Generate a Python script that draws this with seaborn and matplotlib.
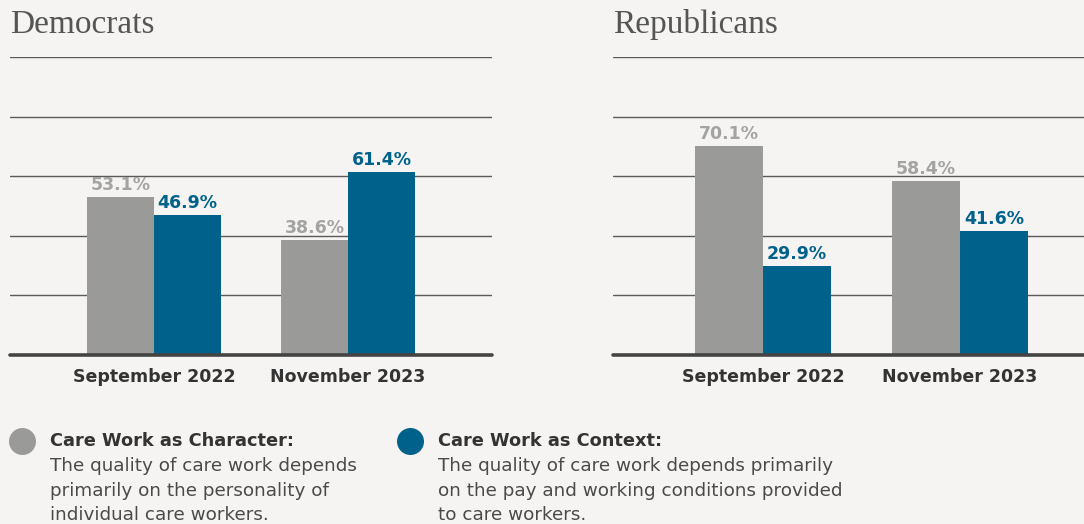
import matplotlib
matplotlib.use("Agg")
import matplotlib.pyplot as plt
import seaborn as sns
import pandas as pd

# ---- data ----
periods = ["September 2022", "November 2023"]
series = ["Care Work as Character", "Care Work as Context"]
dem_character = [53.1, 38.6]
dem_context = [46.9, 61.4]
rep_character = [70.1, 58.4]
rep_context = [29.9, 41.6]
panel_titles = ["Democrats", "Republicans"]
legend_heads = ["Care Work as Character:", "Care Work as Context:"]
legend_bodies = [
    "The quality of care work depends\nprimarily on the personality of\nindividual care workers.",
    "The quality of care work depends primarily\non the pay and working conditions provided\nto care workers.",
]

GRAY = "#9a9a98"
BLUE = "#00628b"
LABEL_GRAY = "#a3a3a1"
BG = "#f5f4f2"
palette = {series[0]: GRAY, series[1]: BLUE}

sns.set_theme(style="white")
plt.rcParams["font.family"] = ["DejaVu Sans"]

W, H = 1084, 524
fig = plt.figure(figsize=(W / 100, H / 100), dpi=100)
fig.patch.set_facecolor(BG)


def make_df(char, ctx):
    rows = []
    for p, v in zip(periods, char):
        rows.append({"period": p, "series": series[0], "value": v})
    for p, v in zip(periods, ctx):
        rows.append({"period": p, "series": series[1], "value": v})
    return pd.DataFrame(rows)


panels = [
    (make_df(dem_character, dem_context), 10, (-0.742, 1.742), panel_titles[0]),
    (make_df(rep_character, rep_context), 613, (-0.761, 1.685), panel_titles[1]),
]

ax_w = 482
top_px, base_px = 57, 355
for df, left_px, xlim, title in panels:
    ax = fig.add_axes([left_px / W, 1 - base_px / H, ax_w / W, (base_px - top_px) / H])
    ax.set_facecolor(BG)
    sns.barplot(data=df, x="period", y="value", hue="series", hue_order=series,
                order=periods, palette=palette, width=0.69, saturation=1,
                linewidth=0, edgecolor="none",
                legend=False, ax=ax, zorder=3)
    ax.set_xlim(*xlim)
    ax.set_ylim(0, 100)
    ax.set_yticks([20, 40, 60, 80, 100])
    ax.yaxis.grid(True, color="#5a5a5a", linewidth=1.0, zorder=0)
    ax.set_axisbelow(True)
    ax.tick_params(axis="y", length=0, labelleft=False)
    ax.tick_params(axis="x", length=0, pad=9)
    for lbl in ax.get_xticklabels():
        lbl.set_fontweight("bold")
        lbl.set_fontsize(12.5)
        lbl.set_color("#333333")
    ax.set_xlabel("")
    ax.set_ylabel("")
    for s in ax.spines.values():
        s.set_visible(False)
    ax.axhline(0, color="#444444", linewidth=2.6, zorder=4, clip_on=False)
    for cont, col in zip(ax.containers, [LABEL_GRAY, BLUE]):
        vals = [b.get_height() for b in cont]
        ax.bar_label(cont, labels=[f"{v:.1f}%" for v in vals], padding=2,
                     color=col, fontweight="bold", fontsize=12.5)
    fig.text(left_px / W, 1 - 33 / H, title, fontsize=24, color="#555555",
             family=["Liberation Serif", "DejaVu Serif"], va="baseline", ha="left")

# ---- legend ----
lax = fig.add_axes([0, 0, 1, 1])
lax.set_xlim(0, W)
lax.set_ylim(H, 0)
lax.axis("off")
lax.patch.set_alpha(0)
leg = [(22, 50, GRAY), (410, 438, BLUE)]
for (cx, tx, col), head, body in zip(leg, legend_heads, legend_bodies):
    lax.scatter([cx], [441], s=(27 * 0.72) ** 2, color=col, linewidths=0)
    lax.text(tx, 441, head, fontsize=12.8, fontweight="bold", color="#333333",
             va="center", ha="left")
    for i, line in enumerate(body.split("\n")):
        lax.text(tx, 466 + i * 24.5, line, fontsize=13.2, color="#4a4a4a",
                 va="center", ha="left")

fig.savefig("out.png", dpi=100, facecolor=BG)
